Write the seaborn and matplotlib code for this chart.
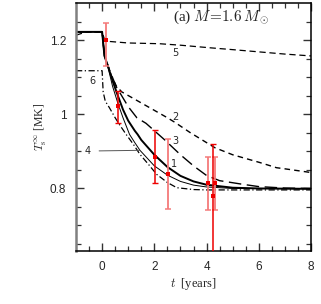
import numpy as np
import pandas as pd
import matplotlib
matplotlib.use("Agg")
import matplotlib.pyplot as plt
import seaborn as sns

# ---- data ----
t1 = [-1, 0, 0.09, 0.22, 0.4, 0.6, 0.8, 1.0, 1.25, 1.36, 1.5, 2.0, 2.5, 3.0, 3.5, 4.0, 5.0, 6.0, 8.0]
T1 = [1.222, 1.222, 1.157, 1.13, 1.09, 1.05, 1.012, 0.982, 0.955, 0.945, 0.93, 0.89, 0.857, 0.833, 0.818, 0.809, 0.801, 0.799, 0.798]

t4 = [-1, 0, 0.09, 0.22, 0.4, 0.6, 0.8, 1.05, 1.25, 1.45, 2.0, 2.5, 3.0, 3.5, 4.0, 5.0, 8.0]
T4 = [1.222, 1.222, 1.157, 1.128, 1.075, 1.03, 0.99, 0.945, 0.923, 0.902, 0.86, 0.835, 0.818, 0.808, 0.803, 0.799, 0.798]

t3 = [-1, 0, 0.09, 0.22, 0.54, 1.0, 1.33, 1.68, 2.0, 2.4, 3.0, 3.5, 4.0, 4.5, 5.4, 6.0, 7.0, 8.0]
T3 = [1.222, 1.222, 1.157, 1.13, 1.074, 1.02, 0.99, 0.975, 0.955, 0.93, 0.89, 0.86, 0.834, 0.82, 0.81, 0.804, 0.8, 0.799]

t2 = [-1, 0, 0.09, 0.22, 0.35, 0.54, 0.75, 1.0, 1.5, 2.0, 2.5, 2.8, 3.37, 4.32, 5.0, 6.04, 6.68, 7.0, 8.0]
T2 = [1.222, 1.222, 1.157, 1.132, 1.105, 1.076, 1.06, 1.05, 1.03, 1.01, 0.99, 0.977, 0.95, 0.909, 0.89, 0.869, 0.855, 0.852, 0.842]

t5 = [-1, -0.6, 0, 0.08, 0.3, 1.0, 2.2, 3.0, 4.13, 5.0, 6.0, 7.0, 8.0]
T5 = [1.213, 1.222, 1.222, 1.204, 1.196, 1.192, 1.19, 1.186, 1.179, 1.174, 1.168, 1.162, 1.157]

t6 = [-1, 0, 0.04, 0.12, 0.28, 0.5, 0.66, 0.92, 1.2, 1.45, 1.8, 2.09, 2.5, 2.86, 3.5, 4.0, 8.0]
T6 = [1.117, 1.117, 1.06, 1.035, 1.017, 0.99, 0.972, 0.945, 0.918, 0.891, 0.862, 0.837, 0.815, 0.801, 0.796, 0.795, 0.795]

# observations: pink group and red group
obs_pink_t = [0.15, 2.52, 4.07, 4.34]
obs_pink_T = [1.20, 0.837, 0.815, 0.815]
obs_pink_lo = [1.13, 0.744, 0.742, 0.742]
obs_pink_hi = [1.245, 0.932, 0.885, 0.885]

obs_red_t = [0.62, 2.03, 4.26]
obs_red_T = [1.023, 0.885, 0.778]
obs_red_lo = [0.977, 0.815, 0.55]
obs_red_hi = [1.062, 0.956, 0.92]

curve_labels = ["1", "2", "3", "4", "5", "6"]

# ---- figure ----
sns.set_style("ticks")
plt.rcParams["mathtext.fontset"] = "cm"
plt.rcParams["font.family"] = ["Liberation Serif", "DejaVu Serif"]

fig = plt.figure(figsize=(3.21, 3.04), dpi=100)
ax = fig.add_axes([76/321, 53/304, 235/321, 248/304])

def draw(t, T, **kw):
    df = pd.DataFrame({"t": t, "T": T})
    sns.lineplot(data=df, x="t", y="T", ax=ax, estimator=None, sort=False, **kw)

draw(t5, T5, color="black", lw=0.9, dashes=(5, 3))
draw(t6, T6, color="black", lw=0.9, dashes=(5, 2, 1, 2))
draw(t2, T2, color="black", lw=1.0, dashes=(4, 3))
draw(t3, T3, color="black", lw=1.0, dashes=(9, 4))
draw(t4, T4, color="black", lw=0.7)
draw(t1, T1, color="black", lw=1.4)

pink = "#f47a7a"
red = "#ee0000"
ax.errorbar(obs_pink_t, obs_pink_T,
            yerr=[np.array(obs_pink_T) - np.array(obs_pink_lo), np.array(obs_pink_hi) - np.array(obs_pink_T)],
            fmt="none", ecolor=pink, elinewidth=1.3, capsize=2.5, capthick=1.1, zorder=5)
ax.errorbar(obs_red_t, obs_red_T,
            yerr=[np.array(obs_red_T) - np.array(obs_red_lo), np.array(obs_red_hi) - np.array(obs_red_T)],
            fmt="none", ecolor=red, elinewidth=1.1, capsize=2.5, capthick=1.0, zorder=5)
pts = pd.DataFrame({"t": obs_pink_t + obs_red_t, "T": obs_pink_T + obs_red_T})
sns.scatterplot(data=pts, x="t", y="T", ax=ax, marker="s", s=9, color=red, linewidth=0, zorder=6)

# curve labels
fs_lab = 7
ax.text(2.79, 1.166, curve_labels[4], fontsize=fs_lab, ha="center", va="center", family="DejaVu Sans")
ax.text(2.8, 0.993, curve_labels[1], fontsize=fs_lab, ha="center", va="center", family="DejaVu Sans")
ax.text(2.8, 0.928, curve_labels[2], fontsize=fs_lab, ha="center", va="center", family="DejaVu Sans")
ax.text(2.76, 0.866, curve_labels[0], fontsize=fs_lab, ha="center", va="center", family="DejaVu Sans")
ax.text(-0.38, 1.089, curve_labels[5], fontsize=fs_lab, ha="center", va="center", family="DejaVu Sans")
ax.annotate(curve_labels[3], xy=(1.45, 0.902), xytext=(-0.57, 0.9), fontsize=fs_lab,
            ha="center", va="center", family="DejaVu Sans",
            arrowprops=dict(arrowstyle="-", color="#555555", lw=0.7, shrinkA=4, shrinkB=0))

ax.text(0.62, 0.944, r"(a) $M\!=\!1.6\,M_\odot$", transform=ax.transAxes,
        fontsize=11, ha="center", va="center")

ax.set_xlim(-1, 8)
ax.set_ylim(0.63, 1.30)
ax.set_xticks([0, 2, 4, 6, 8])
ax.set_yticks([0.8, 1.0, 1.2])
ax.set_yticklabels(["0.8", "1", "1.2"])
ax.set_xticks(np.arange(-0.5, 8.01, 0.5), minor=True)
ax.set_yticks(np.arange(0.65, 1.30, 0.05), minor=True)
ax.tick_params(which="both", direction="in", top=True, right=True, labelsize=8.5, color="#333333")
ax.tick_params(which="major", length=6, width=1.0, pad=7)
ax.tick_params(which="minor", length=3.5, width=0.9)
for lab in ax.get_xticklabels() + ax.get_yticklabels():
    lab.set_family("Liberation Sans")

ax.set_xlabel(r"$t$  [years]", fontsize=9, labelpad=2)
ax.set_ylabel(r"$T_{\rm s}^{\infty}$ [MK]", fontsize=8.5, labelpad=1)

for side in ["top", "right", "bottom"]:
    ax.spines[side].set_visible(True)
    ax.spines[side].set_color("black")
    ax.spines[side].set_linewidth(1.1)
ax.spines["left"].set_color("#808080")
ax.spines["left"].set_linewidth(1.8)

fig.savefig("out.png", dpi=100)
